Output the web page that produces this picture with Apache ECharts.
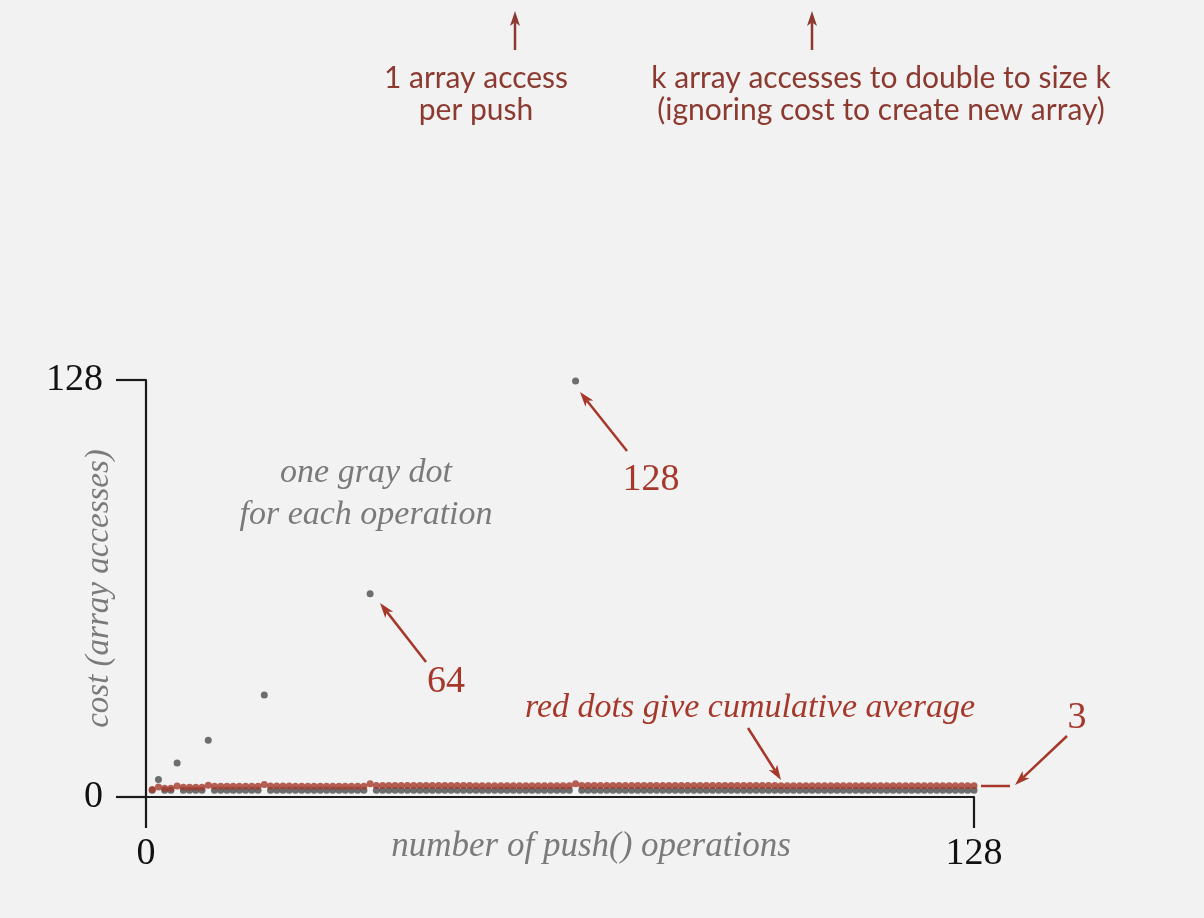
<!DOCTYPE html>
<html>
<head>
<meta charset="utf-8">
<script src="https://cdn.jsdelivr.net/npm/echarts@6/dist/echarts.min.js"></script>
<style>
html,body{margin:0;padding:0;background:#f2f2f2;}
#c{width:1204px;height:918px;}
</style>
</head>
<body>
<div id="c"></div>
<script>
// cost of each operation (gray dots), operation index 1..133
const grayCost = [
  2.1, 5.4, 2.1, 2.1, 10.4,
  2.1, 2.1, 2.1, 2.1, 17.4,
  2.1, 2.1, 2.1, 2.1, 2.1, 2.1, 2.1, 2.1, 31.3,
  2.1, 2.1, 2.1, 2.1, 2.1, 2.1, 2.1, 2.1, 2.1, 2.1, 2.1, 2.1, 2.1, 2.1, 2.1, 2.1, 62.4,
  2.1, 2.1, 2.1, 2.1, 2.1, 2.1, 2.1, 2.1, 2.1, 2.1, 2.1, 2.1, 2.1, 2.1, 2.1, 2.1,
  2.1, 2.1, 2.1, 2.1, 2.1, 2.1, 2.1, 2.1, 2.1, 2.1, 2.1, 2.1, 2.1, 2.1, 2.1, 2.1, 127.7,
  2.1, 2.1, 2.1, 2.1, 2.1, 2.1, 2.1, 2.1, 2.1, 2.1, 2.1, 2.1, 2.1, 2.1, 2.1, 2.1,
  2.1, 2.1, 2.1, 2.1, 2.1, 2.1, 2.1, 2.1, 2.1, 2.1, 2.1, 2.1, 2.1, 2.1, 2.1, 2.1,
  2.1, 2.1, 2.1, 2.1, 2.1, 2.1, 2.1, 2.1, 2.1, 2.1, 2.1, 2.1, 2.1, 2.1, 2.1, 2.1,
  2.1, 2.1, 2.1, 2.1, 2.1, 2.1, 2.1, 2.1, 2.1, 2.1, 2.1, 2.1, 2.1, 2.1, 2.1, 2.1
];
// cumulative average (red dots)
const redAverage = [
  2.3, 3.1, 2.7, 2.7, 3.4,
  3.0, 3.0, 3.0, 3.0, 3.6,
  3.3, 3.3, 3.3, 3.3, 3.3, 3.3, 3.3, 3.3, 3.8,
  3.35, 3.35, 3.35, 3.35, 3.3, 3.3, 3.3, 3.3, 3.3, 3.3, 3.3, 3.3, 3.3, 3.3, 3.3, 3.3, 4.1,
  3.55, 3.55, 3.55, 3.55, 3.5, 3.5, 3.5, 3.5, 3.5, 3.5, 3.5, 3.5, 3.5, 3.5, 3.5, 3.5,
  3.45, 3.45, 3.45, 3.45, 3.45, 3.45, 3.45, 3.45, 3.45, 3.45, 3.45, 3.45, 3.45, 3.45, 3.45, 3.45, 4.1,
  3.55, 3.55, 3.55, 3.55, 3.55, 3.55, 3.55, 3.55, 3.5, 3.5, 3.5, 3.5, 3.5, 3.5, 3.5, 3.5,
  3.5, 3.5, 3.5, 3.5, 3.5, 3.5, 3.5, 3.5, 3.5, 3.5, 3.5, 3.5, 3.5, 3.5, 3.5, 3.5,
  3.45, 3.45, 3.45, 3.45, 3.45, 3.45, 3.45, 3.45, 3.45, 3.45, 3.45, 3.45, 3.45, 3.45, 3.45, 3.45,
  3.45, 3.45, 3.45, 3.45, 3.45, 3.45, 3.45, 3.45, 3.45, 3.45, 3.45, 3.45, 3.45, 3.45, 3.45, 3.45
];
const xTickLabels = ['0', '128'];
const yTickLabels = ['0', '128'];
const xMax = grayCost.length;
const yMax = 128;

const RED = '#a5382b';
const BROWN = '#8c3a30';
const GRAY_TXT = '#7a7a7a';
const SERIF = '"Liberation Serif", "DejaVu Serif", serif';

function arrow(x1, y1, x2, y2, color, w, hl, hw) {
  const dx = x2 - x1, dy = y2 - y1, L = Math.hypot(dx, dy);
  const ux = dx / L, uy = dy / L, nx = -uy, ny = ux;
  const bx = x2 - ux * hl, by = y2 - uy * hl;
  const nxp = x2 - ux * hl * 0.75, nyp = y2 - uy * hl * 0.75;
  return {
    type: 'group', silent: true,
    children: [
      { type: 'line', shape: { x1: x1, y1: y1, x2: nxp, y2: nyp }, style: { stroke: color, lineWidth: w } },
      { type: 'polygon', shape: { points: [
          [x2, y2],
          [bx + nx * hw / 2, by + ny * hw / 2],
          [nxp, nyp],
          [bx - nx * hw / 2, by - ny * hw / 2]
        ] }, style: { fill: color } }
    ]
  };
}
function txt(x, y, s, font, color, lh) {
  return { type: 'text', x: x, y: y, silent: true,
    style: { text: s, font: font, fill: color, align: 'center', verticalAlign: 'middle', lineHeight: lh || undefined } };
}

const chart = echarts.init(document.getElementById('c'));
chart.setOption({
  backgroundColor: '#f2f2f2',
  animation: false,
  grid: { left: 146, right: 230, top: 380, bottom: 121, containLabel: false, outerBoundsMode: 'none' },
  xAxis: {
    type: 'value', min: 0, max: xMax, interval: xMax,
    name: 'number of push() operations',
    nameLocation: 'middle', nameGap: 32, nameMoveOverlap: false,
    nameTextStyle: { fontFamily: SERIF, fontStyle: 'italic', fontSize: 35, color: GRAY_TXT, padding: [0, 0, 0, 62] },
    splitLine: { show: false },
    axisLine: { lineStyle: { color: '#1a1a1a', width: 2.2 } },
    axisTick: { length: 31, lineStyle: { color: '#1a1a1a', width: 2.2 } },
    axisLabel: { margin: 38, fontFamily: SERIF, fontSize: 38, color: '#111',
      formatter: v => v === 0 ? xTickLabels[0] : xTickLabels[1] }
  },
  yAxis: {
    type: 'value', min: 0, max: yMax, interval: yMax,
    name: 'cost (array accesses)',
    nameLocation: 'middle', nameGap: 30, nameMoveOverlap: false,
    nameTextStyle: { fontFamily: SERIF, fontStyle: 'italic', fontSize: 33, color: GRAY_TXT },
    splitLine: { show: false },
    axisLine: { lineStyle: { color: '#1a1a1a', width: 2.2 } },
    axisTick: { length: 30, lineStyle: { color: '#1a1a1a', width: 2.2 } },
    axisLabel: { margin: 43, fontFamily: SERIF, fontSize: 38, color: '#111',
      formatter: v => v === 0 ? yTickLabels[0] : yTickLabels[1] }
  },
  series: [
    { type: 'scatter', name: 'cost', symbolSize: 7, clip: false,
      itemStyle: { color: '#4c4c4c' },
      data: grayCost.map((v, i) => [i + 1, v]) },
    { type: 'scatter', name: 'cumulative average', symbolSize: 7, clip: false, z: 3,
      itemStyle: { color: RED },
      data: redAverage.map((v, i) => [i + 1, v]) }
  ],
  graphic: [
    arrow(515, 50, 515, 11, BROWN, 2.5, 15, 10),
    arrow(812, 50, 812, 11, BROWN, 2.5, 15, 10),
    txt(476, 94, '1 array access\nper push', '30px Lato', BROWN, 32),
    txt(881, 94, 'k array accesses to double to size k\n(ignoring cost to create new array)', '30px Lato', BROWN, 32),
    txt(366, 494, 'one gray dot\nfor each operation', 'italic 34px ' + SERIF, GRAY_TXT, 42),
    arrow(627, 451, 580, 392, RED, 2.5, 15, 10),
    txt(651, 480, '128', '38px ' + SERIF, RED),
    arrow(426, 662, 380, 603, RED, 2.5, 15, 10),
    txt(446, 682, '64', '38px ' + SERIF, RED),
    txt(750, 708, 'red dots give cumulative average', 'italic 34px ' + SERIF, RED),
    arrow(748, 728, 781, 780, RED, 2.5, 15, 10),
    { type: 'line', silent: true, shape: { x1: 981, y1: 786, x2: 1010, y2: 786 }, style: { stroke: RED, lineWidth: 2.5 } },
    arrow(1067, 736, 1015, 785, RED, 2.5, 15, 10),
    txt(1077, 718, '3', '38px ' + SERIF, RED)
  ]
});
</script>
</body>
</html>
